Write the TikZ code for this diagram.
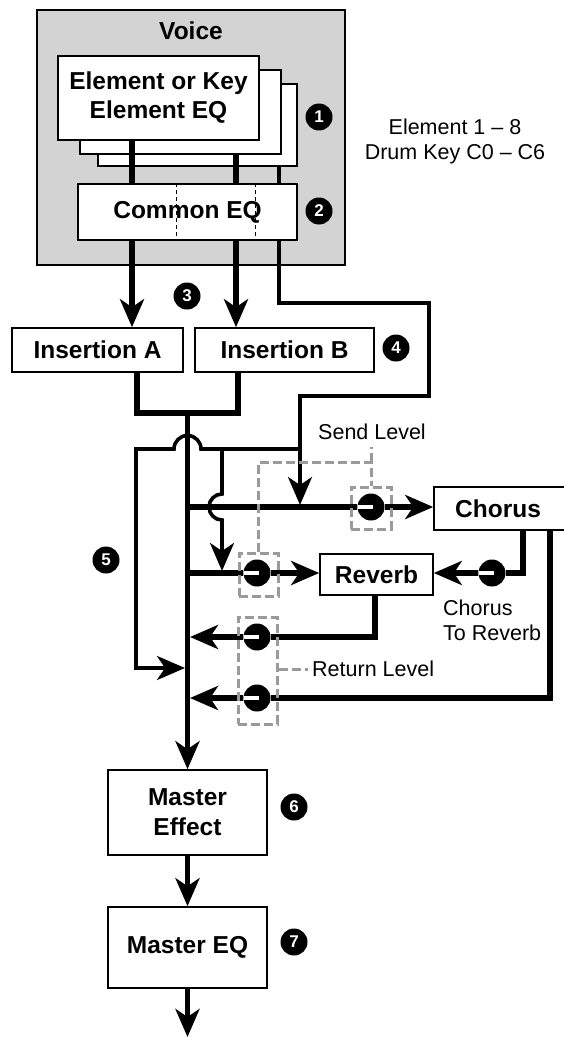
\documentclass[tikz,border=0pt]{standalone}
\usepackage{fontspec}
\setmainfont{Liberation Sans}
\usetikzlibrary{arrows.meta}
\definecolor{vgray}{HTML}{D3D3D3}
\definecolor{dgray}{HTML}{9A9A9A}
\begin{document}
\begin{tikzpicture}[x=1pt,y=-1pt,
  box/.style={draw, line width=1.6pt, fill=white, inner sep=0pt, align=center,
    font=\fontsize{24.5}{29}\selectfont\bfseries},
  lab/.style={inner sep=0pt, font=\fontsize{21.5}{25}\selectfont},
  num/.style={circle, fill=black, text=white, minimum size=27pt, inner sep=0pt,
    font=\fontsize{17}{17}\selectfont\bfseries},
  knob/.style={circle, fill=black, minimum size=27pt, inner sep=0pt,
    path picture={\fill[white] ([yshift=-2.2pt]path picture bounding box.west)
      rectangle ([xshift=2pt,yshift=2.2pt]path picture bounding box.center);}},
  gbox/.style={draw=dgray, line width=3pt, dash pattern=on 9pt off 4pt, inner sep=0pt},
  gdash/.style={draw=dgray, line width=3pt, dash pattern=on 9pt off 4pt},
  heavy/.style={line width=5.5pt},
  medium/.style={line width=3.6pt},
  arr/.style={-{Stealth[length=28pt,width=24pt,inset=8pt]}},
]
\useasboundingbox (0,0) rectangle (563,1038);

% Voice block
\node[draw, line width=1.6pt, fill=vgray, minimum width=308pt, minimum height=255pt, inner sep=0pt] (voice) at (191,137.5) {};
\node[inner sep=0pt, font=\fontsize{24.5}{29}\selectfont\bfseries] (voicelbl) at (191,31) {Voice};
\node[box, minimum width=199pt, minimum height=82pt] (el3) at (197.5,125) {};
\node[box, minimum width=201pt, minimum height=84pt] (el2) at (180.5,112) {};
\node[box, minimum width=201pt, minimum height=84pt] (el1) at (158.5,98) {Element or Key\\Element EQ};
\node[box, minimum width=219pt, minimum height=56pt] (ceq) at (187.5,212) {Common EQ};
\draw[line width=0.9pt, dash pattern=on 4pt off 3pt] ([xshift=-11.5pt]ceq.north) -- ([xshift=-11.5pt]ceq.south);
\draw[line width=0.9pt, dash pattern=on 4pt off 3pt] ([xshift=67.5pt]ceq.north) -- ([xshift=67.5pt]ceq.south);

\draw[heavy] ([xshift=-26.5pt]el1.south) -- ([xshift=-26.5pt]el1.south |- ceq.north);
\draw[heavy] ([xshift=55.5pt]el2.south) -- ([xshift=55.5pt]el2.south |- ceq.north);
\draw[medium] ([xshift=81.5pt]el3.south) -- ([xshift=81.5pt]el3.south |- ceq.north);

% side texts and markers
\node[lab, align=center] (range) at (455,141) {Element 1 – 8\\Drum Key C0 – C6};
\node[num] (n1) at (319,117) {1};
\node[num] (n2) at (319,211) {2};
\node[num] (n3) at (187,296) {3};
\node[num] (n4) at (396,348) {4};
\node[num] (n5) at (106,560) {5};
\node[num] (n6) at (294,807) {6};
\node[num] (n7) at (294,942) {7};

% insertion
\node[box, minimum width=171pt, minimum height=44pt] (insA) at (97.5,350) {Insertion A};
\node[box, minimum width=179pt, minimum height=44pt] (insB) at (284.5,350) {Insertion B};
\draw[heavy,arr] ([xshift=-55.5pt]ceq.south) -- ([xshift=-55.5pt]ceq.south |- insA.north);
\draw[heavy,arr] ([xshift=48.5pt]ceq.south) -- ([xshift=48.5pt]ceq.south |- insB.north);

% effect boxes
\node[box, minimum width=136pt, minimum height=43pt] (chorus) at (502,508.5) {\hspace*{-8pt}Chorus};
\node[box, minimum width=113pt, minimum height=41pt] (reverb) at (376.5,574.5) {Reverb};
\node[box, minimum width=159pt, minimum height=85pt, font=\fontsize{24.5}{30}\selectfont\bfseries] (mfx) at (187.5,812.5) {Master\\Effect};
\node[box, minimum width=159pt, minimum height=81pt] (meq) at (187.5,947.5) {Master EQ};

% coordinates
\coordinate (j1) at (187.5,413);
\coordinate (r1) at (429,303);
\coordinate (r2) at (300,396);
\coordinate (r3) at (300,505);
\coordinate (bus) at (300,449);
\coordinate (hopR) at (201,449);
\coordinate (busL) at (136,449);
\coordinate (dryC) at (136,668);
\coordinate (dryT) at (185,668);
\coordinate (brT) at (222,449);
\coordinate (brH) at (222,494);
\coordinate (brE) at (222,571);
\coordinate (m4) at (190,637);
\coordinate (m5) at (190,698);
\coordinate (out) at (187.5,1037);

% third path from Common EQ
\draw[medium,arr] ([xshift=91.5pt]ceq.south) |- (r1) |- (r2) -- (r3);

% insertion outputs and main line
\draw[heavy] ([xshift=39.5pt]insA.south) |- (j1) -| ([xshift=-46.5pt]insB.south);
\draw[heavy,arr] (j1) -- (mfx.north);

% knobs
\node[knob] (k1) at (371,507) {};
\node[knob] (k2) at (257,573) {};
\node[knob] (k3) at (492,573) {};
\node[knob] (k4) at (257,637) {};
\node[knob] (k5) at (257,698) {};

% sends
\draw[heavy] (j1 |- k1) -- (k1);
\draw[heavy,arr] (k1) -- (chorus.west |- k1);
\draw[heavy] (j1 |- k2) -- (k2);
\draw[heavy,arr] (k2) -- (reverb.west |- k2);
\draw[heavy] ([xshift=21pt]chorus.south) |- (k3);
\draw[heavy,arr] (k3) -- (reverb.east |- k3);

% dry bus with hop
\draw[medium,arr] (bus) -- (hopR) arc[start angle=0, end angle=-180, radius=13.5] -- (busL) -- (dryC) -- (dryT);
\draw[medium,arr] (brT) -- (brH) arc[start angle=-90, end angle=-270, radius=13] -- (brE);

% returns
\draw[heavy] ([xshift=-1.5pt]reverb.south) |- (k4);
\draw[heavy,arr] (k4) -- (m4);
\draw[heavy] ([xshift=48pt]chorus.south) |- (k5);
\draw[heavy,arr] (k5) -- (m5);

% master chain
\draw[heavy,arr] (mfx.south) -- (meq.north);
\draw[heavy,arr] (meq.south) -- (out);

% level brackets
\node[gbox, minimum width=40pt, minimum height=42pt] (gb1) at (371,508) {};
\node[gbox, minimum width=39pt, minimum height=43pt] (gb2) at (258.5,574.5) {};
\node[gbox, minimum width=39pt, minimum height=107pt] (gb3) at (257.5,670.5) {};
\coordinate (slc) at (371,462);
\coordinate (slt) at (371,447);
\draw[gdash] (gb2.north) |- (slc) -- (gb1.north);
\draw[gdash] (slc) -- (slt);
\node[lab] (sendlbl) at (372,432) {Send Level};
\node[lab, anchor=west] (retlbl) at (312,669) {Return Level};
\draw[gdash] (gb3.east |- retlbl.west) -- ([xshift=-4pt]retlbl.west);
\node[lab, align=left, anchor=west] (c2r) at (443,620) {Chorus\\To Reverb};
\end{tikzpicture}
\end{document}
